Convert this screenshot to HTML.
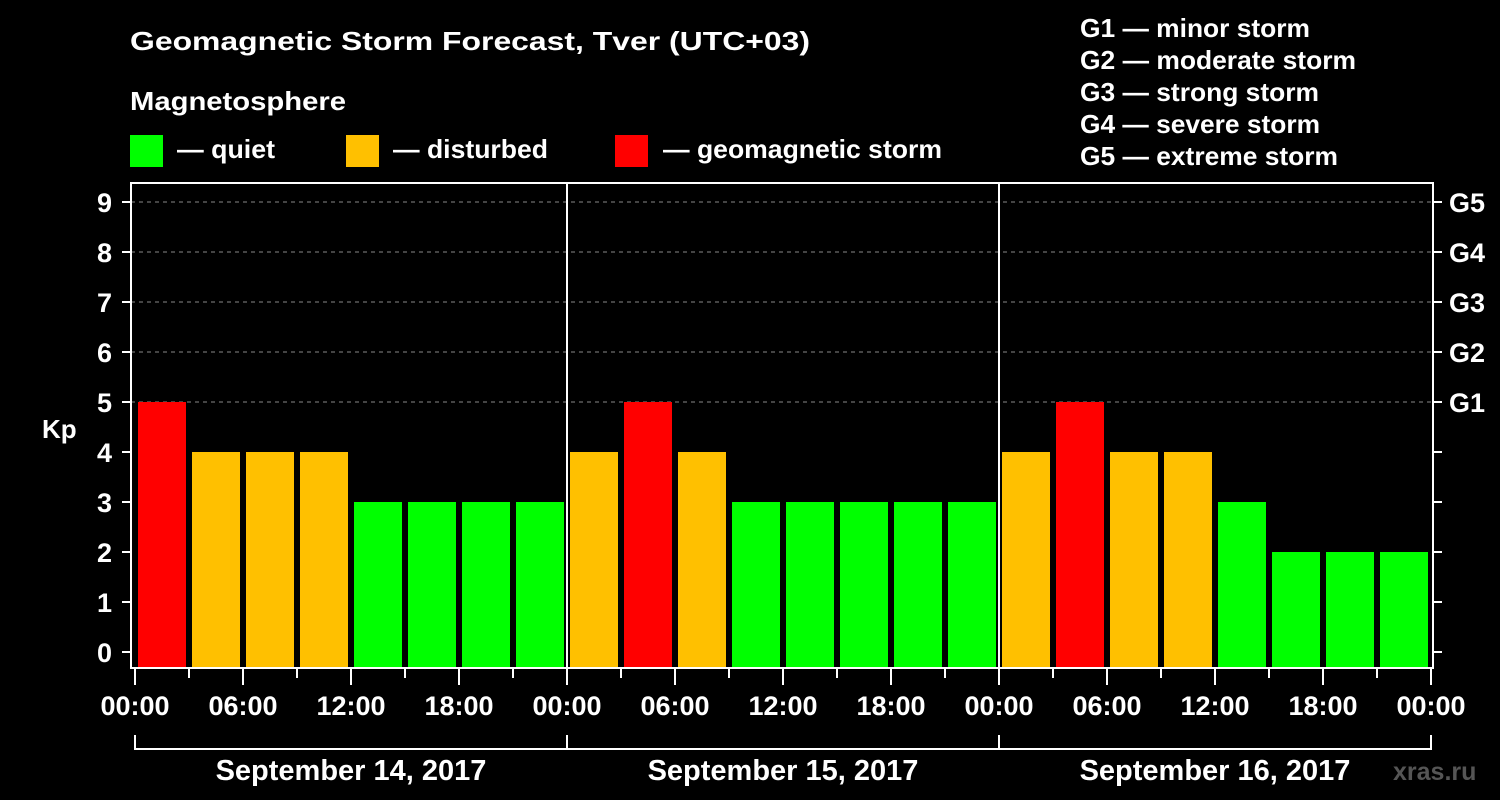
<!DOCTYPE html>
<html><head><meta charset="utf-8"><style>
body{margin:0;background:#000;}
svg{display:block;font-family:"Liberation Sans",Arial,sans-serif;font-weight:bold;}
</style></head><body>
<svg id="chart" width="1500" height="800" viewBox="0 0 1500 800">
<rect width="1500" height="800" fill="#000"/>
<text x="130" y="50" fill="#fff" font-size="26" textLength="680" lengthAdjust="spacingAndGlyphs">Geomagnetic Storm Forecast, Tver (UTC+03)</text>
<text x="130" y="110" fill="#fff" font-size="26" textLength="216" lengthAdjust="spacingAndGlyphs">Magnetosphere</text>
<g><rect x="130" y="135" width="33" height="32" fill="#00ff00"/><text x="177" y="158" fill="#fff" font-size="26" textLength="98" lengthAdjust="spacingAndGlyphs">— quiet</text></g>
<g><rect x="346" y="135" width="33" height="32" fill="#ffc000"/><text x="393" y="158" fill="#fff" font-size="26" textLength="155" lengthAdjust="spacingAndGlyphs">— disturbed</text></g>
<g><rect x="615" y="135" width="33" height="32" fill="#ff0000"/><text x="663" y="158" fill="#fff" font-size="26" textLength="279" lengthAdjust="spacingAndGlyphs">— geomagnetic storm</text></g>
<g fill="#fff" font-size="26">
<text x="1080" y="37" textLength="230" lengthAdjust="spacingAndGlyphs">G1 — minor storm</text>
<text x="1080" y="69" textLength="276" lengthAdjust="spacingAndGlyphs">G2 — moderate storm</text>
<text x="1080" y="101" textLength="239" lengthAdjust="spacingAndGlyphs">G3 — strong storm</text>
<text x="1080" y="133" textLength="240" lengthAdjust="spacingAndGlyphs">G4 — severe storm</text>
<text x="1080" y="165" textLength="258" lengthAdjust="spacingAndGlyphs">G5 — extreme storm</text>
</g>
<g id="grid"></g><g id="bars"></g><g id="axes"></g>
<text x="42" y="438" fill="#fff" font-size="26">Kp</text>
<text x="1393" y="780" fill="#555" font-size="25">xras.ru</text>
</svg>
<script>
const kpValues=[5,4,4,4,3,3,3,3, 4,5,4,3,3,3,3,3, 4,5,4,4,3,2,2,2];
const dayLabels=["September 14, 2017","September 15, 2017","September 16, 2017"];
const hourLabels=["00:00","06:00","12:00","18:00"];
const gLabels=["G1","G2","G3","G4","G5"];
const NS="http://www.w3.org/2000/svg";
const X0=135,X1=1431,YTOP=183,YBOT=668;
const xs=i=>X0+i*(X1-X0)/24;
const ys=v=>652-v*50;
function mk(tag,attrs,parent,txt){const e=document.createElementNS(NS,tag);for(const k in attrs)e.setAttribute(k,attrs[k]);if(txt!==undefined)e.textContent=txt;document.getElementById(parent).appendChild(e);return e;}
for(let v=5;v<=9;v++){const l=mk('line',{x1:131,x2:1433,y1:ys(v),y2:ys(v),stroke:'#888','stroke-dasharray':'4,4'},'grid');

}
kpValues.forEach((v,i)=>{const c=v>=5?'#ff0000':v>=4?'#ffc000':'#00ff00';
const r=mk('rect',{x:xs(i)+3,y:ys(v),width:(X1-X0)/24-6,height:YBOT-ys(v),fill:c},'bars');

});
const fr=mk('rect',{x:131,y:YTOP,width:1302,height:YBOT-YTOP,fill:'none',stroke:'#fff','stroke-width':2},'axes');


for(let d=1;d<3;d++){const l=mk('line',{x1:xs(d*8),x2:xs(d*8),y1:YTOP,y2:YBOT,stroke:'#fff','stroke-width':2},'axes');

}
for(let v=0;v<=9;v++){mk('line',{x1:122,x2:131,y1:ys(v),y2:ys(v),stroke:'#fff','stroke-width':2},'axes');
mk('line',{x1:1433,x2:1442,y1:ys(v),y2:ys(v),stroke:'#fff','stroke-width':2},'axes');
const t=mk('text',{x:112,y:ys(v)+10,fill:'#fff','font-size':27,'text-anchor':'end'},'axes',String(v));

}
gLabels.forEach((g,i)=>{const t=mk('text',{x:1449,y:ys(5+i)+10,fill:'#fff','font-size':27},'axes',g);

});
for(let i=0;i<=24;i++){const major=i%2==0;mk('line',{x1:xs(i),x2:xs(i),y1:YBOT,y2:major?685:678,stroke:'#fff','stroke-width':2},'axes');
if(major){const t=mk('text',{x:xs(i),y:715,fill:'#fff','font-size':27,'text-anchor':'middle'},'axes',hourLabels[(i/2)%4]);

}}
mk('path',{d:`M${X0} 735V749H${X1}V735`,stroke:'#fff','stroke-width':2,fill:'none'},'axes');
for(let d=1;d<3;d++)mk('line',{x1:xs(d*8),x2:xs(d*8),y1:735,y2:749,stroke:'#fff','stroke-width':2},'axes');
dayLabels.forEach((s,d)=>{const t=mk('text',{x:(xs(d*8)+xs(d*8+8))/2,y:780,fill:'#fff','font-size':29,'text-anchor':'middle'},'axes',s);

});
</script>
</body></html>
